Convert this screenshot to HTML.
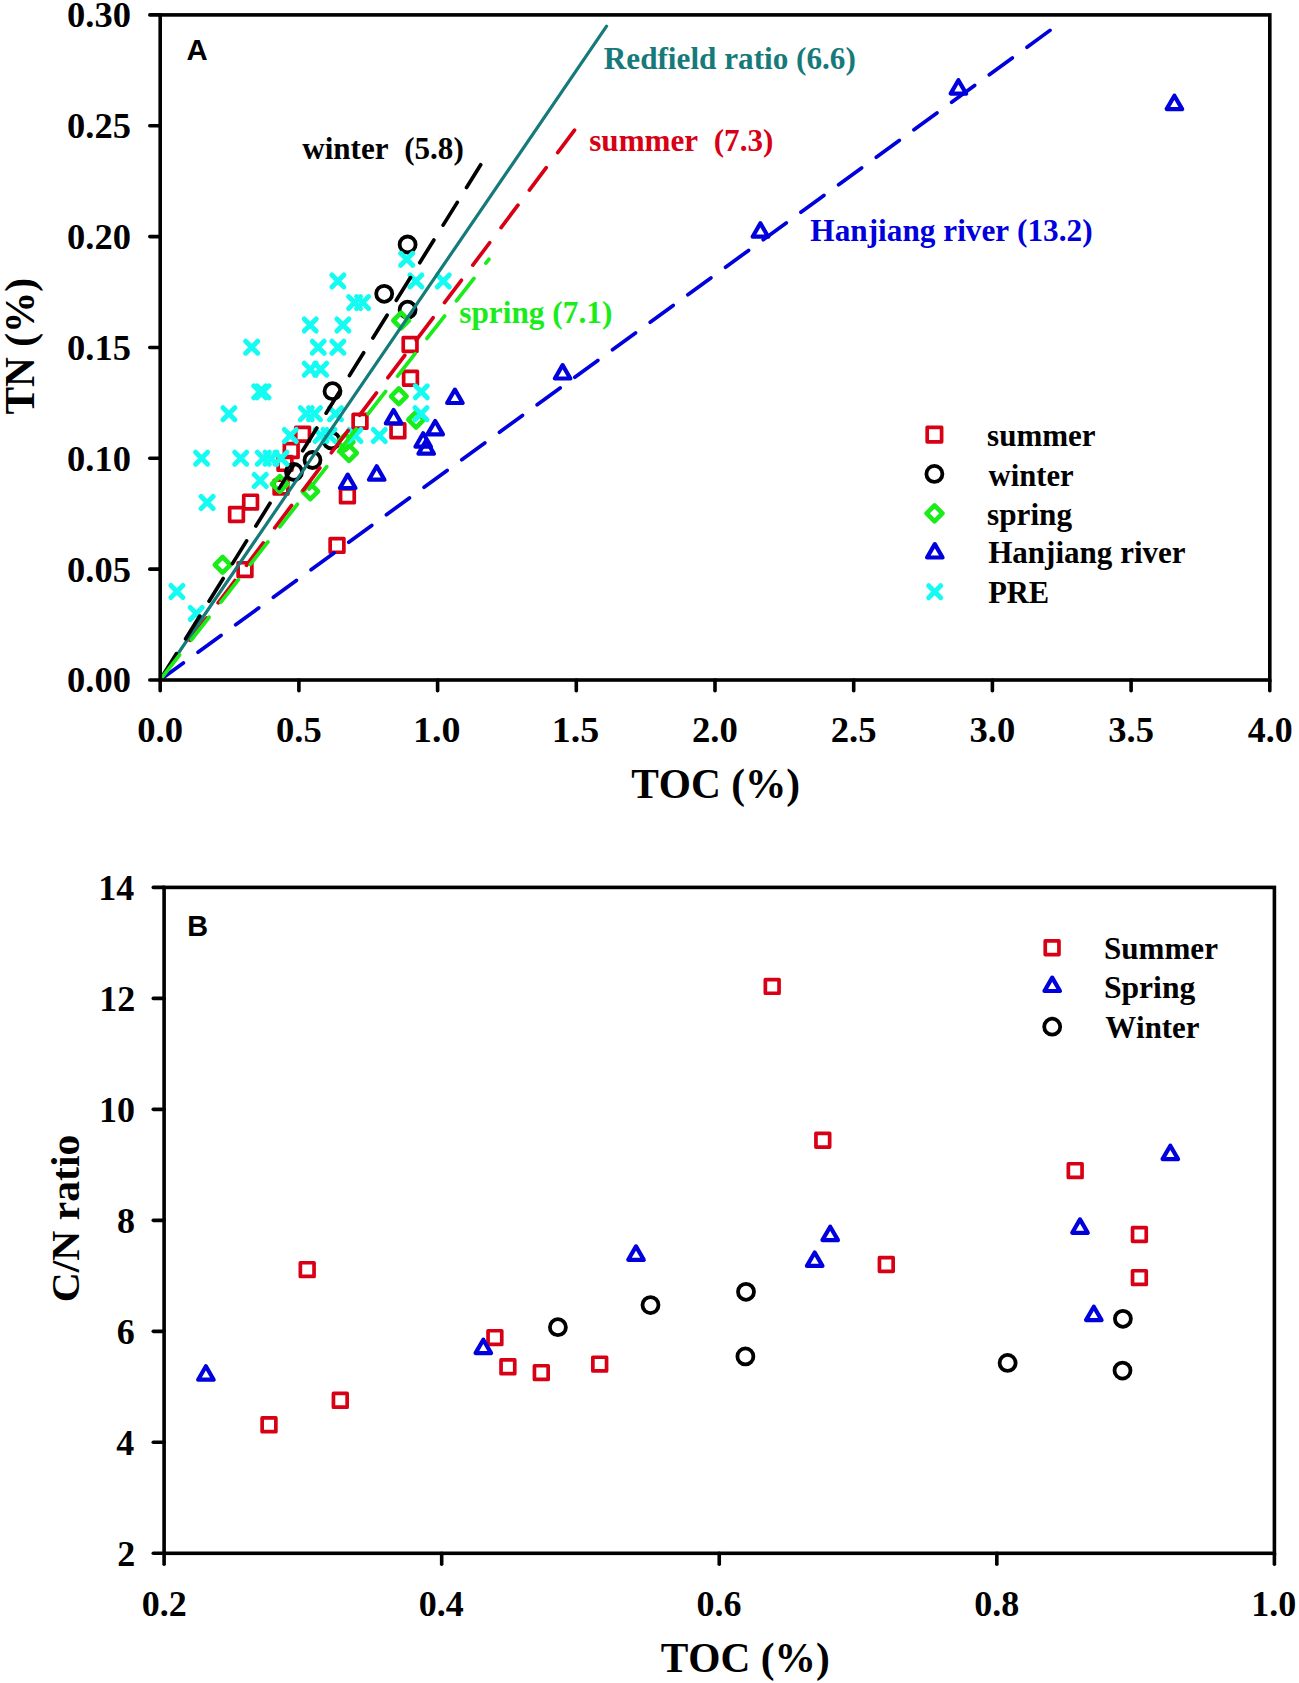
<!DOCTYPE html>
<html><head><meta charset="utf-8"><style>
html,body{margin:0;padding:0;background:#fff;width:1299px;height:1683px;overflow:hidden}
svg{display:block}
text{font-kerning:none}
</style></head><body>
<svg width="1299" height="1683" viewBox="0 0 1299 1683">
<rect width="1299" height="1683" fill="#fff"/>
<rect x="229.65" y="507.65" width="13.70" height="13.70" fill="none" stroke="rgb(215,0,20)" stroke-width="3.7" stroke-linejoin="round"/>
<rect x="238.15" y="562.75" width="13.70" height="13.70" fill="none" stroke="rgb(215,0,20)" stroke-width="3.7" stroke-linejoin="round"/>
<rect x="243.75" y="495.25" width="13.70" height="13.70" fill="none" stroke="rgb(215,0,20)" stroke-width="3.7" stroke-linejoin="round"/>
<rect x="274.15" y="480.25" width="13.70" height="13.70" fill="none" stroke="rgb(215,0,20)" stroke-width="3.7" stroke-linejoin="round"/>
<rect x="278.15" y="456.55" width="13.70" height="13.70" fill="none" stroke="rgb(215,0,20)" stroke-width="3.7" stroke-linejoin="round"/>
<rect x="284.35" y="443.65" width="13.70" height="13.70" fill="none" stroke="rgb(215,0,20)" stroke-width="3.7" stroke-linejoin="round"/>
<rect x="295.75" y="427.35" width="13.70" height="13.70" fill="none" stroke="rgb(215,0,20)" stroke-width="3.7" stroke-linejoin="round"/>
<rect x="330.15" y="538.55" width="13.70" height="13.70" fill="none" stroke="rgb(215,0,20)" stroke-width="3.7" stroke-linejoin="round"/>
<rect x="340.55" y="488.95" width="13.70" height="13.70" fill="none" stroke="rgb(215,0,20)" stroke-width="3.7" stroke-linejoin="round"/>
<rect x="353.15" y="414.45" width="13.70" height="13.70" fill="none" stroke="rgb(215,0,20)" stroke-width="3.7" stroke-linejoin="round"/>
<rect x="391.05" y="423.95" width="13.70" height="13.70" fill="none" stroke="rgb(215,0,20)" stroke-width="3.7" stroke-linejoin="round"/>
<rect x="403.65" y="371.35" width="13.70" height="13.70" fill="none" stroke="rgb(215,0,20)" stroke-width="3.7" stroke-linejoin="round"/>
<rect x="403.25" y="337.65" width="13.70" height="13.70" fill="none" stroke="rgb(215,0,20)" stroke-width="3.7" stroke-linejoin="round"/>
<circle cx="294.00" cy="472.00" r="8.0" fill="none" stroke="#000" stroke-width="3.8"/>
<circle cx="312.50" cy="460.00" r="8.0" fill="none" stroke="#000" stroke-width="3.8"/>
<circle cx="331.50" cy="440.50" r="8.0" fill="none" stroke="#000" stroke-width="3.8"/>
<circle cx="332.50" cy="391.20" r="8.0" fill="none" stroke="#000" stroke-width="3.8"/>
<circle cx="384.20" cy="293.80" r="8.0" fill="none" stroke="#000" stroke-width="3.8"/>
<circle cx="407.60" cy="309.70" r="8.0" fill="none" stroke="#000" stroke-width="3.8"/>
<circle cx="407.60" cy="244.50" r="8.0" fill="none" stroke="#000" stroke-width="3.8"/>
<path d="M222.60 557.00L230.40 564.80L222.60 572.60L214.80 564.80Z" fill="none" stroke="rgb(25,236,25)" stroke-width="4.6" stroke-linejoin="round"/>
<path d="M279.80 476.20L287.60 484.00L279.80 491.80L272.00 484.00Z" fill="none" stroke="rgb(25,236,25)" stroke-width="4.6" stroke-linejoin="round"/>
<path d="M310.30 483.60L318.10 491.40L310.30 499.20L302.50 491.40Z" fill="none" stroke="rgb(25,236,25)" stroke-width="4.6" stroke-linejoin="round"/>
<path d="M345.60 434.20L353.40 442.00L345.60 449.80L337.80 442.00Z" fill="none" stroke="rgb(25,236,25)" stroke-width="4.6" stroke-linejoin="round"/>
<path d="M349.00 445.20L356.80 453.00L349.00 460.80L341.20 453.00Z" fill="none" stroke="rgb(25,236,25)" stroke-width="4.6" stroke-linejoin="round"/>
<path d="M398.80 388.50L406.60 396.30L398.80 404.10L391.00 396.30Z" fill="none" stroke="rgb(25,236,25)" stroke-width="4.6" stroke-linejoin="round"/>
<path d="M401.10 312.70L408.90 320.50L401.10 328.30L393.30 320.50Z" fill="none" stroke="rgb(25,236,25)" stroke-width="4.6" stroke-linejoin="round"/>
<path d="M416.10 411.90L423.90 419.70L416.10 427.50L408.30 419.70Z" fill="none" stroke="rgb(25,236,25)" stroke-width="4.6" stroke-linejoin="round"/>
<path d="M347.70 474.59L355.45 488.01L339.95 488.01Z" fill="none" stroke="rgb(0,0,220)" stroke-width="4.2" stroke-linejoin="round"/>
<path d="M376.70 466.29L384.45 479.71L368.95 479.71Z" fill="none" stroke="rgb(0,0,220)" stroke-width="4.2" stroke-linejoin="round"/>
<path d="M393.60 409.99L401.35 423.41L385.85 423.41Z" fill="none" stroke="rgb(0,0,220)" stroke-width="4.2" stroke-linejoin="round"/>
<path d="M435.20 420.99L442.95 434.41L427.45 434.41Z" fill="none" stroke="rgb(0,0,220)" stroke-width="4.2" stroke-linejoin="round"/>
<path d="M423.20 433.29L430.95 446.71L415.45 446.71Z" fill="none" stroke="rgb(0,0,220)" stroke-width="4.2" stroke-linejoin="round"/>
<path d="M426.20 440.29L433.95 453.71L418.45 453.71Z" fill="none" stroke="rgb(0,0,220)" stroke-width="4.2" stroke-linejoin="round"/>
<path d="M454.90 389.59L462.65 403.01L447.15 403.01Z" fill="none" stroke="rgb(0,0,220)" stroke-width="4.2" stroke-linejoin="round"/>
<path d="M562.60 365.09L570.35 378.51L554.85 378.51Z" fill="none" stroke="rgb(0,0,220)" stroke-width="4.2" stroke-linejoin="round"/>
<path d="M760.40 223.29L768.15 236.71L752.65 236.71Z" fill="none" stroke="rgb(0,0,220)" stroke-width="4.2" stroke-linejoin="round"/>
<path d="M958.40 80.19L966.15 93.61L950.65 93.61Z" fill="none" stroke="rgb(0,0,220)" stroke-width="4.2" stroke-linejoin="round"/>
<path d="M1174.40 95.69L1182.15 109.11L1166.65 109.11Z" fill="none" stroke="rgb(0,0,220)" stroke-width="4.2" stroke-linejoin="round"/>
<path d="M190.20 607.50L202.20 619.50M202.20 607.50L190.20 619.50" stroke="rgb(20,252,242)" stroke-width="5" stroke-linecap="round" fill="none"/>
<path d="M170.90 585.50L182.90 597.50M182.90 585.50L170.90 597.50" stroke="rgb(20,252,242)" stroke-width="5" stroke-linecap="round" fill="none"/>
<path d="M201.10 496.50L213.10 508.50M213.10 496.50L201.10 508.50" stroke="rgb(20,252,242)" stroke-width="5" stroke-linecap="round" fill="none"/>
<path d="M254.20 474.50L266.20 486.50M266.20 474.50L254.20 486.50" stroke="rgb(20,252,242)" stroke-width="5" stroke-linecap="round" fill="none"/>
<path d="M195.60 452.20L207.60 464.20M207.60 452.20L195.60 464.20" stroke="rgb(20,252,242)" stroke-width="5" stroke-linecap="round" fill="none"/>
<path d="M234.70 452.20L246.70 464.20M246.70 452.20L234.70 464.20" stroke="rgb(20,252,242)" stroke-width="5" stroke-linecap="round" fill="none"/>
<path d="M257.30 452.20L269.30 464.20M269.30 452.20L257.30 464.20" stroke="rgb(20,252,242)" stroke-width="5" stroke-linecap="round" fill="none"/>
<path d="M265.00 452.20L277.00 464.20M277.00 452.20L265.00 464.20" stroke="rgb(20,252,242)" stroke-width="5" stroke-linecap="round" fill="none"/>
<path d="M275.00 452.20L287.00 464.20M287.00 452.20L275.00 464.20" stroke="rgb(20,252,242)" stroke-width="5" stroke-linecap="round" fill="none"/>
<path d="M284.30 429.50L296.30 441.50M296.30 429.50L284.30 441.50" stroke="rgb(20,252,242)" stroke-width="5" stroke-linecap="round" fill="none"/>
<path d="M315.00 429.50L327.00 441.50M327.00 429.50L315.00 441.50" stroke="rgb(20,252,242)" stroke-width="5" stroke-linecap="round" fill="none"/>
<path d="M323.00 429.50L335.00 441.50M335.00 429.50L323.00 441.50" stroke="rgb(20,252,242)" stroke-width="5" stroke-linecap="round" fill="none"/>
<path d="M349.00 429.50L361.00 441.50M361.00 429.50L349.00 441.50" stroke="rgb(20,252,242)" stroke-width="5" stroke-linecap="round" fill="none"/>
<path d="M373.30 429.50L385.30 441.50M385.30 429.50L373.30 441.50" stroke="rgb(20,252,242)" stroke-width="5" stroke-linecap="round" fill="none"/>
<path d="M222.90 407.70L234.90 419.70M234.90 407.70L222.90 419.70" stroke="rgb(20,252,242)" stroke-width="5" stroke-linecap="round" fill="none"/>
<path d="M300.30 407.70L312.30 419.70M312.30 407.70L300.30 419.70" stroke="rgb(20,252,242)" stroke-width="5" stroke-linecap="round" fill="none"/>
<path d="M308.50 407.70L320.50 419.70M320.50 407.70L308.50 419.70" stroke="rgb(20,252,242)" stroke-width="5" stroke-linecap="round" fill="none"/>
<path d="M329.50 407.70L341.50 419.70M341.50 407.70L329.50 419.70" stroke="rgb(20,252,242)" stroke-width="5" stroke-linecap="round" fill="none"/>
<path d="M415.00 407.70L427.00 419.70M427.00 407.70L415.00 419.70" stroke="rgb(20,252,242)" stroke-width="5" stroke-linecap="round" fill="none"/>
<path d="M253.80 385.80L265.80 397.80M265.80 385.80L253.80 397.80" stroke="rgb(20,252,242)" stroke-width="5" stroke-linecap="round" fill="none"/>
<path d="M257.00 385.80L269.00 397.80M269.00 385.80L257.00 397.80" stroke="rgb(20,252,242)" stroke-width="5" stroke-linecap="round" fill="none"/>
<path d="M415.30 385.80L427.30 397.80M427.30 385.80L415.30 397.80" stroke="rgb(20,252,242)" stroke-width="5" stroke-linecap="round" fill="none"/>
<path d="M304.20 363.20L316.20 375.20M316.20 363.20L304.20 375.20" stroke="rgb(20,252,242)" stroke-width="5" stroke-linecap="round" fill="none"/>
<path d="M314.70 363.20L326.70 375.20M326.70 363.20L314.70 375.20" stroke="rgb(20,252,242)" stroke-width="5" stroke-linecap="round" fill="none"/>
<path d="M245.70 341.20L257.70 353.20M257.70 341.20L245.70 353.20" stroke="rgb(20,252,242)" stroke-width="5" stroke-linecap="round" fill="none"/>
<path d="M312.20 341.20L324.20 353.20M324.20 341.20L312.20 353.20" stroke="rgb(20,252,242)" stroke-width="5" stroke-linecap="round" fill="none"/>
<path d="M331.90 341.20L343.90 353.20M343.90 341.20L331.90 353.20" stroke="rgb(20,252,242)" stroke-width="5" stroke-linecap="round" fill="none"/>
<path d="M304.20 319.00L316.20 331.00M316.20 319.00L304.20 331.00" stroke="rgb(20,252,242)" stroke-width="5" stroke-linecap="round" fill="none"/>
<path d="M336.90 319.00L348.90 331.00M348.90 319.00L336.90 331.00" stroke="rgb(20,252,242)" stroke-width="5" stroke-linecap="round" fill="none"/>
<path d="M348.60 296.60L360.60 308.60M360.60 296.60L348.60 308.60" stroke="rgb(20,252,242)" stroke-width="5" stroke-linecap="round" fill="none"/>
<path d="M356.60 296.60L368.60 308.60M368.60 296.60L356.60 308.60" stroke="rgb(20,252,242)" stroke-width="5" stroke-linecap="round" fill="none"/>
<path d="M331.90 274.90L343.90 286.90M343.90 274.90L331.90 286.90" stroke="rgb(20,252,242)" stroke-width="5" stroke-linecap="round" fill="none"/>
<path d="M409.90 274.90L421.90 286.90M421.90 274.90L409.90 286.90" stroke="rgb(20,252,242)" stroke-width="5" stroke-linecap="round" fill="none"/>
<path d="M437.30 274.90L449.30 286.90M449.30 274.90L437.30 286.90" stroke="rgb(20,252,242)" stroke-width="5" stroke-linecap="round" fill="none"/>
<path d="M400.70 253.30L412.70 265.30M412.70 253.30L400.70 265.30" stroke="rgb(20,252,242)" stroke-width="5" stroke-linecap="round" fill="none"/>
<line x1="160" y1="680" x2="1050.5" y2="30" stroke="rgb(0,0,220)" stroke-width="3.7" stroke-linecap="round" stroke-dasharray="28.5 18.15" stroke-dashoffset="-0.4"/>
<line x1="160" y1="680" x2="575.2" y2="129.3" stroke="rgb(215,0,20)" stroke-width="3.7" stroke-linecap="round" stroke-dasharray="28 19" stroke-dashoffset="-2.6"/>
<line x1="160" y1="680" x2="606.6" y2="26.2" stroke="rgb(22,122,122)" stroke-width="3.2" stroke-linecap="round"/>
<line x1="160" y1="680" x2="481.3" y2="163.8" stroke="#000" stroke-width="3.7" stroke-linecap="round" stroke-dasharray="26.8 17.5" stroke-dashoffset="-4.2"/>
<line x1="160" y1="680" x2="488.9" y2="259.3" stroke="rgb(25,236,25)" stroke-width="3.7" stroke-linecap="round" stroke-dasharray="28.5 19.3" stroke-dashoffset="-3.3"/>
<rect x="160.2" y="14.9" width="1109.6" height="665.1" fill="none" stroke="#000" stroke-width="3.6"/>
<line x1="149.8" y1="680.00" x2="160.2" y2="680.00" stroke="#000" stroke-width="3.6" stroke-linecap="round"/>
<text x="67.11" y="692.40" font-family='"Liberation Serif", serif' font-weight="bold" font-size="36" fill="#000" textLength="63.88" lengthAdjust="spacingAndGlyphs" xml:space="preserve">0.00</text>
<line x1="149.8" y1="569.15" x2="160.2" y2="569.15" stroke="#000" stroke-width="3.6" stroke-linecap="round"/>
<text x="67.11" y="581.55" font-family='"Liberation Serif", serif' font-weight="bold" font-size="36" fill="#000" textLength="63.82" lengthAdjust="spacingAndGlyphs" xml:space="preserve">0.05</text>
<line x1="149.8" y1="458.30" x2="160.2" y2="458.30" stroke="#000" stroke-width="3.6" stroke-linecap="round"/>
<text x="67.11" y="470.70" font-family='"Liberation Serif", serif' font-weight="bold" font-size="36" fill="#000" textLength="63.88" lengthAdjust="spacingAndGlyphs" xml:space="preserve">0.10</text>
<line x1="149.8" y1="347.45" x2="160.2" y2="347.45" stroke="#000" stroke-width="3.6" stroke-linecap="round"/>
<text x="67.11" y="359.85" font-family='"Liberation Serif", serif' font-weight="bold" font-size="36" fill="#000" textLength="63.82" lengthAdjust="spacingAndGlyphs" xml:space="preserve">0.15</text>
<line x1="149.8" y1="236.60" x2="160.2" y2="236.60" stroke="#000" stroke-width="3.6" stroke-linecap="round"/>
<text x="67.11" y="249.00" font-family='"Liberation Serif", serif' font-weight="bold" font-size="36" fill="#000" textLength="63.88" lengthAdjust="spacingAndGlyphs" xml:space="preserve">0.20</text>
<line x1="149.8" y1="125.75" x2="160.2" y2="125.75" stroke="#000" stroke-width="3.6" stroke-linecap="round"/>
<text x="67.11" y="138.15" font-family='"Liberation Serif", serif' font-weight="bold" font-size="36" fill="#000" textLength="63.82" lengthAdjust="spacingAndGlyphs" xml:space="preserve">0.25</text>
<line x1="149.8" y1="14.90" x2="160.2" y2="14.90" stroke="#000" stroke-width="3.6" stroke-linecap="round"/>
<text x="67.11" y="27.30" font-family='"Liberation Serif", serif' font-weight="bold" font-size="36" fill="#000" textLength="63.88" lengthAdjust="spacingAndGlyphs" xml:space="preserve">0.30</text>
<line x1="160.20" y1="680.0" x2="160.20" y2="690.8" stroke="#000" stroke-width="3.6" stroke-linecap="round"/>
<text x="137.30" y="742.20" font-family='"Liberation Serif", serif' font-weight="bold" font-size="36" fill="#000" textLength="45.79" lengthAdjust="spacingAndGlyphs" xml:space="preserve">0.0</text>
<line x1="298.90" y1="680.0" x2="298.90" y2="690.8" stroke="#000" stroke-width="3.6" stroke-linecap="round"/>
<text x="276.01" y="742.20" font-family='"Liberation Serif", serif' font-weight="bold" font-size="36" fill="#000" textLength="45.73" lengthAdjust="spacingAndGlyphs" xml:space="preserve">0.5</text>
<line x1="437.60" y1="680.0" x2="437.60" y2="690.8" stroke="#000" stroke-width="3.6" stroke-linecap="round"/>
<text x="413.06" y="742.20" font-family='"Liberation Serif", serif' font-weight="bold" font-size="36" fill="#000" textLength="47.49" lengthAdjust="spacingAndGlyphs" xml:space="preserve">1.0</text>
<line x1="576.30" y1="680.0" x2="576.30" y2="690.8" stroke="#000" stroke-width="3.6" stroke-linecap="round"/>
<text x="551.76" y="742.20" font-family='"Liberation Serif", serif' font-weight="bold" font-size="36" fill="#000" textLength="47.43" lengthAdjust="spacingAndGlyphs" xml:space="preserve">1.5</text>
<line x1="715.00" y1="680.0" x2="715.00" y2="690.8" stroke="#000" stroke-width="3.6" stroke-linecap="round"/>
<text x="691.96" y="742.20" font-family='"Liberation Serif", serif' font-weight="bold" font-size="36" fill="#000" textLength="45.94" lengthAdjust="spacingAndGlyphs" xml:space="preserve">2.0</text>
<line x1="853.70" y1="680.0" x2="853.70" y2="690.8" stroke="#000" stroke-width="3.6" stroke-linecap="round"/>
<text x="830.66" y="742.20" font-family='"Liberation Serif", serif' font-weight="bold" font-size="36" fill="#000" textLength="45.89" lengthAdjust="spacingAndGlyphs" xml:space="preserve">2.5</text>
<line x1="992.40" y1="680.0" x2="992.40" y2="690.8" stroke="#000" stroke-width="3.6" stroke-linecap="round"/>
<text x="969.52" y="742.20" font-family='"Liberation Serif", serif' font-weight="bold" font-size="36" fill="#000" textLength="45.77" lengthAdjust="spacingAndGlyphs" xml:space="preserve">3.0</text>
<line x1="1131.10" y1="680.0" x2="1131.10" y2="690.8" stroke="#000" stroke-width="3.6" stroke-linecap="round"/>
<text x="1108.22" y="742.20" font-family='"Liberation Serif", serif' font-weight="bold" font-size="36" fill="#000" textLength="45.71" lengthAdjust="spacingAndGlyphs" xml:space="preserve">3.5</text>
<line x1="1269.80" y1="680.0" x2="1269.80" y2="690.8" stroke="#000" stroke-width="3.6" stroke-linecap="round"/>
<text x="1247.81" y="742.20" font-family='"Liberation Serif", serif' font-weight="bold" font-size="36" fill="#000" textLength="44.86" lengthAdjust="spacingAndGlyphs" xml:space="preserve">4.0</text>
<text x="186.57" y="59.60" font-family='"Liberation Sans", sans-serif' font-weight="bold" font-size="30" fill="#000" textLength="21.21" lengthAdjust="spacingAndGlyphs" xml:space="preserve">A</text>
<text x="631.15" y="798.00" font-family='"Liberation Serif", serif' font-weight="bold" font-size="43" fill="#000" textLength="168.97" lengthAdjust="spacingAndGlyphs" xml:space="preserve">TOC (%)</text>
<text transform="rotate(-90)" x="-414.44" y="34.30" font-family='"Liberation Serif", serif' font-weight="bold" font-size="42" fill="#000" textLength="136.36" lengthAdjust="spacingAndGlyphs">TN (%)</text>
<text x="603.77" y="69.20" font-family='"Liberation Serif", serif' font-weight="bold" font-size="31.5" fill="rgb(22,122,122)" textLength="252.10" lengthAdjust="spacingAndGlyphs" xml:space="preserve">Redfield ratio (6.6)</text>
<text x="302.21" y="158.80" font-family='"Liberation Serif", serif' font-weight="bold" font-size="31.5" fill="#000" textLength="161.56" lengthAdjust="spacingAndGlyphs" xml:space="preserve">winter  (5.8)</text>
<text x="589.26" y="151.10" font-family='"Liberation Serif", serif' font-weight="bold" font-size="31.5" fill="rgb(215,0,20)" textLength="184.11" lengthAdjust="spacingAndGlyphs" xml:space="preserve">summer  (7.3)</text>
<text x="459.25" y="323.40" font-family='"Liberation Serif", serif' font-weight="bold" font-size="31.5" fill="rgb(25,236,25)" textLength="153.12" lengthAdjust="spacingAndGlyphs" xml:space="preserve">spring (7.1)</text>
<text x="810.37" y="241.00" font-family='"Liberation Serif", serif' font-weight="bold" font-size="31.5" fill="rgb(0,0,220)" textLength="282.21" lengthAdjust="spacingAndGlyphs" xml:space="preserve">Hanjiang river (13.2)</text>
<rect x="927.20" y="427.40" width="14.40" height="14.40" fill="none" stroke="rgb(215,0,20)" stroke-width="3.7" stroke-linejoin="round"/>
<circle cx="934.40" cy="473.90" r="8.0" fill="none" stroke="#000" stroke-width="3.8"/>
<path d="M934.50 505.50L942.40 513.40L934.50 521.30L926.60 513.40Z" fill="none" stroke="rgb(25,236,25)" stroke-width="4.6" stroke-linejoin="round"/>
<path d="M934.80 544.09L942.55 557.51L927.05 557.51Z" fill="none" stroke="rgb(0,0,220)" stroke-width="4.2" stroke-linejoin="round"/>
<path d="M928.70 585.70L940.70 597.70M940.70 585.70L928.70 597.70" stroke="rgb(20,252,242)" stroke-width="5" stroke-linecap="round" fill="none"/>
<text x="987.06" y="446.40" font-family='"Liberation Serif", serif' font-weight="bold" font-size="31.5" fill="#000" textLength="108.61" lengthAdjust="spacingAndGlyphs" xml:space="preserve">summer</text>
<text x="988.61" y="485.70" font-family='"Liberation Serif", serif' font-weight="bold" font-size="31.5" fill="#000" textLength="85.05" lengthAdjust="spacingAndGlyphs" xml:space="preserve">winter</text>
<text x="987.05" y="524.90" font-family='"Liberation Serif", serif' font-weight="bold" font-size="31.5" fill="#000" textLength="85.05" lengthAdjust="spacingAndGlyphs" xml:space="preserve">spring</text>
<text x="988.17" y="562.90" font-family='"Liberation Serif", serif' font-weight="bold" font-size="31.5" fill="#000" textLength="197.50" lengthAdjust="spacingAndGlyphs" xml:space="preserve">Hanjiang river</text>
<text x="988.18" y="603.00" font-family='"Liberation Serif", serif' font-weight="bold" font-size="31.5" fill="#000" textLength="60.98" lengthAdjust="spacingAndGlyphs" xml:space="preserve">PRE</text>
<rect x="164.1" y="887.4" width="1110.3000000000002" height="665.9" fill="none" stroke="#000" stroke-width="3.6"/>
<line x1="153.3" y1="1553.30" x2="164.1" y2="1553.30" stroke="#000" stroke-width="3.6" stroke-linecap="round"/>
<text x="117.25" y="1565.70" font-family='"Liberation Serif", serif' font-weight="bold" font-size="36" fill="#000" textLength="18.00" lengthAdjust="spacingAndGlyphs" xml:space="preserve">2</text>
<line x1="153.3" y1="1442.32" x2="164.1" y2="1442.32" stroke="#000" stroke-width="3.6" stroke-linecap="round"/>
<text x="116.37" y="1454.72" font-family='"Liberation Serif", serif' font-weight="bold" font-size="36" fill="#000" textLength="18.00" lengthAdjust="spacingAndGlyphs" xml:space="preserve">4</text>
<line x1="153.3" y1="1331.33" x2="164.1" y2="1331.33" stroke="#000" stroke-width="3.6" stroke-linecap="round"/>
<text x="116.75" y="1343.73" font-family='"Liberation Serif", serif' font-weight="bold" font-size="36" fill="#000" textLength="18.00" lengthAdjust="spacingAndGlyphs" xml:space="preserve">6</text>
<line x1="153.3" y1="1220.35" x2="164.1" y2="1220.35" stroke="#000" stroke-width="3.6" stroke-linecap="round"/>
<text x="116.90" y="1232.75" font-family='"Liberation Serif", serif' font-weight="bold" font-size="36" fill="#000" textLength="18.00" lengthAdjust="spacingAndGlyphs" xml:space="preserve">8</text>
<line x1="153.3" y1="1109.37" x2="164.1" y2="1109.37" stroke="#000" stroke-width="3.6" stroke-linecap="round"/>
<text x="99.07" y="1121.77" font-family='"Liberation Serif", serif' font-weight="bold" font-size="36" fill="#000" textLength="36.00" lengthAdjust="spacingAndGlyphs" xml:space="preserve">10</text>
<line x1="153.3" y1="998.38" x2="164.1" y2="998.38" stroke="#000" stroke-width="3.6" stroke-linecap="round"/>
<text x="99.25" y="1010.78" font-family='"Liberation Serif", serif' font-weight="bold" font-size="36" fill="#000" textLength="36.00" lengthAdjust="spacingAndGlyphs" xml:space="preserve">12</text>
<line x1="153.3" y1="887.40" x2="164.1" y2="887.40" stroke="#000" stroke-width="3.6" stroke-linecap="round"/>
<text x="98.37" y="899.80" font-family='"Liberation Serif", serif' font-weight="bold" font-size="36" fill="#000" textLength="36.00" lengthAdjust="spacingAndGlyphs" xml:space="preserve">14</text>
<line x1="164.10" y1="1553.3" x2="164.10" y2="1564.2" stroke="#000" stroke-width="3.6" stroke-linecap="round"/>
<text x="141.69" y="1616.30" font-family='"Liberation Serif", serif' font-weight="bold" font-size="36" fill="#000" textLength="45.00" lengthAdjust="spacingAndGlyphs" xml:space="preserve">0.2</text>
<line x1="441.68" y1="1553.3" x2="441.68" y2="1564.2" stroke="#000" stroke-width="3.6" stroke-linecap="round"/>
<text x="418.82" y="1616.30" font-family='"Liberation Serif", serif' font-weight="bold" font-size="36" fill="#000" textLength="45.00" lengthAdjust="spacingAndGlyphs" xml:space="preserve">0.4</text>
<line x1="719.25" y1="1553.3" x2="719.25" y2="1564.2" stroke="#000" stroke-width="3.6" stroke-linecap="round"/>
<text x="696.59" y="1616.30" font-family='"Liberation Serif", serif' font-weight="bold" font-size="36" fill="#000" textLength="45.00" lengthAdjust="spacingAndGlyphs" xml:space="preserve">0.6</text>
<line x1="996.83" y1="1553.3" x2="996.83" y2="1564.2" stroke="#000" stroke-width="3.6" stroke-linecap="round"/>
<text x="974.24" y="1616.30" font-family='"Liberation Serif", serif' font-weight="bold" font-size="36" fill="#000" textLength="45.00" lengthAdjust="spacingAndGlyphs" xml:space="preserve">0.8</text>
<line x1="1274.40" y1="1553.3" x2="1274.40" y2="1564.2" stroke="#000" stroke-width="3.6" stroke-linecap="round"/>
<text x="1251.14" y="1616.30" font-family='"Liberation Serif", serif' font-weight="bold" font-size="36" fill="#000" textLength="45.00" lengthAdjust="spacingAndGlyphs" xml:space="preserve">1.0</text>
<text x="187.27" y="936.40" font-family='"Liberation Sans", sans-serif' font-weight="bold" font-size="30" fill="#000" textLength="20.84" lengthAdjust="spacingAndGlyphs" xml:space="preserve">B</text>
<text x="660.75" y="1671.60" font-family='"Liberation Serif", serif' font-weight="bold" font-size="43" fill="#000" textLength="168.97" lengthAdjust="spacingAndGlyphs" xml:space="preserve">TOC (%)</text>
<text transform="rotate(-90)" x="-1302.33" y="79.20" font-family='"Liberation Serif", serif' font-weight="bold" font-size="41" fill="#000" textLength="167.62" lengthAdjust="spacingAndGlyphs">C/N ratio</text>
<rect x="262.15" y="1417.95" width="13.70" height="13.70" fill="none" stroke="rgb(215,0,20)" stroke-width="3.7" stroke-linejoin="round"/>
<rect x="300.35" y="1262.75" width="13.70" height="13.70" fill="none" stroke="rgb(215,0,20)" stroke-width="3.7" stroke-linejoin="round"/>
<rect x="333.45" y="1393.45" width="13.70" height="13.70" fill="none" stroke="rgb(215,0,20)" stroke-width="3.7" stroke-linejoin="round"/>
<rect x="488.05" y="1330.75" width="13.70" height="13.70" fill="none" stroke="rgb(215,0,20)" stroke-width="3.7" stroke-linejoin="round"/>
<rect x="501.05" y="1359.95" width="13.70" height="13.70" fill="none" stroke="rgb(215,0,20)" stroke-width="3.7" stroke-linejoin="round"/>
<rect x="534.45" y="1365.75" width="13.70" height="13.70" fill="none" stroke="rgb(215,0,20)" stroke-width="3.7" stroke-linejoin="round"/>
<rect x="592.85" y="1357.25" width="13.70" height="13.70" fill="none" stroke="rgb(215,0,20)" stroke-width="3.7" stroke-linejoin="round"/>
<rect x="765.35" y="979.55" width="13.70" height="13.70" fill="none" stroke="rgb(215,0,20)" stroke-width="3.7" stroke-linejoin="round"/>
<rect x="815.95" y="1133.35" width="13.70" height="13.70" fill="none" stroke="rgb(215,0,20)" stroke-width="3.7" stroke-linejoin="round"/>
<rect x="879.45" y="1257.65" width="13.70" height="13.70" fill="none" stroke="rgb(215,0,20)" stroke-width="3.7" stroke-linejoin="round"/>
<rect x="1068.35" y="1163.75" width="13.70" height="13.70" fill="none" stroke="rgb(215,0,20)" stroke-width="3.7" stroke-linejoin="round"/>
<rect x="1132.55" y="1227.65" width="13.70" height="13.70" fill="none" stroke="rgb(215,0,20)" stroke-width="3.7" stroke-linejoin="round"/>
<rect x="1132.55" y="1270.75" width="13.70" height="13.70" fill="none" stroke="rgb(215,0,20)" stroke-width="3.7" stroke-linejoin="round"/>
<path d="M205.90 1366.29L213.65 1379.71L198.15 1379.71Z" fill="none" stroke="rgb(0,0,220)" stroke-width="4.2" stroke-linejoin="round"/>
<path d="M483.30 1339.69L491.05 1353.11L475.55 1353.11Z" fill="none" stroke="rgb(0,0,220)" stroke-width="4.2" stroke-linejoin="round"/>
<path d="M636.00 1246.39L643.75 1259.81L628.25 1259.81Z" fill="none" stroke="rgb(0,0,220)" stroke-width="4.2" stroke-linejoin="round"/>
<path d="M814.70 1252.49L822.45 1265.91L806.95 1265.91Z" fill="none" stroke="rgb(0,0,220)" stroke-width="4.2" stroke-linejoin="round"/>
<path d="M830.20 1226.69L837.95 1240.11L822.45 1240.11Z" fill="none" stroke="rgb(0,0,220)" stroke-width="4.2" stroke-linejoin="round"/>
<path d="M1080.00 1219.39L1087.75 1232.81L1072.25 1232.81Z" fill="none" stroke="rgb(0,0,220)" stroke-width="4.2" stroke-linejoin="round"/>
<path d="M1093.80 1306.69L1101.55 1320.11L1086.05 1320.11Z" fill="none" stroke="rgb(0,0,220)" stroke-width="4.2" stroke-linejoin="round"/>
<path d="M1170.30 1145.69L1178.05 1159.11L1162.55 1159.11Z" fill="none" stroke="rgb(0,0,220)" stroke-width="4.2" stroke-linejoin="round"/>
<circle cx="557.90" cy="1327.20" r="8.0" fill="none" stroke="#000" stroke-width="3.8"/>
<circle cx="650.50" cy="1305.10" r="8.0" fill="none" stroke="#000" stroke-width="3.8"/>
<circle cx="746.00" cy="1291.80" r="8.0" fill="none" stroke="#000" stroke-width="3.8"/>
<circle cx="745.40" cy="1356.40" r="8.0" fill="none" stroke="#000" stroke-width="3.8"/>
<circle cx="1007.60" cy="1362.90" r="8.0" fill="none" stroke="#000" stroke-width="3.8"/>
<circle cx="1122.90" cy="1318.80" r="8.0" fill="none" stroke="#000" stroke-width="3.8"/>
<circle cx="1122.50" cy="1370.60" r="8.0" fill="none" stroke="#000" stroke-width="3.8"/>
<rect x="1045.25" y="940.85" width="13.70" height="13.70" fill="none" stroke="rgb(215,0,20)" stroke-width="3.7" stroke-linejoin="round"/>
<path d="M1052.20 977.59L1059.95 991.01L1044.45 991.01Z" fill="none" stroke="rgb(0,0,220)" stroke-width="4.2" stroke-linejoin="round"/>
<circle cx="1052.20" cy="1026.70" r="8.0" fill="none" stroke="#000" stroke-width="3.8"/>
<text x="1103.94" y="959.00" font-family='"Liberation Serif", serif' font-weight="bold" font-size="31.5" fill="#000" textLength="114.02" lengthAdjust="spacingAndGlyphs" xml:space="preserve">Summer</text>
<text x="1103.92" y="998.00" font-family='"Liberation Serif", serif' font-weight="bold" font-size="31.5" fill="#000" textLength="91.39" lengthAdjust="spacingAndGlyphs" xml:space="preserve">Spring</text>
<text x="1105.16" y="1037.70" font-family='"Liberation Serif", serif' font-weight="bold" font-size="31.5" fill="#000" textLength="94.40" lengthAdjust="spacingAndGlyphs" xml:space="preserve">Winter</text>
</svg>
</body></html>
